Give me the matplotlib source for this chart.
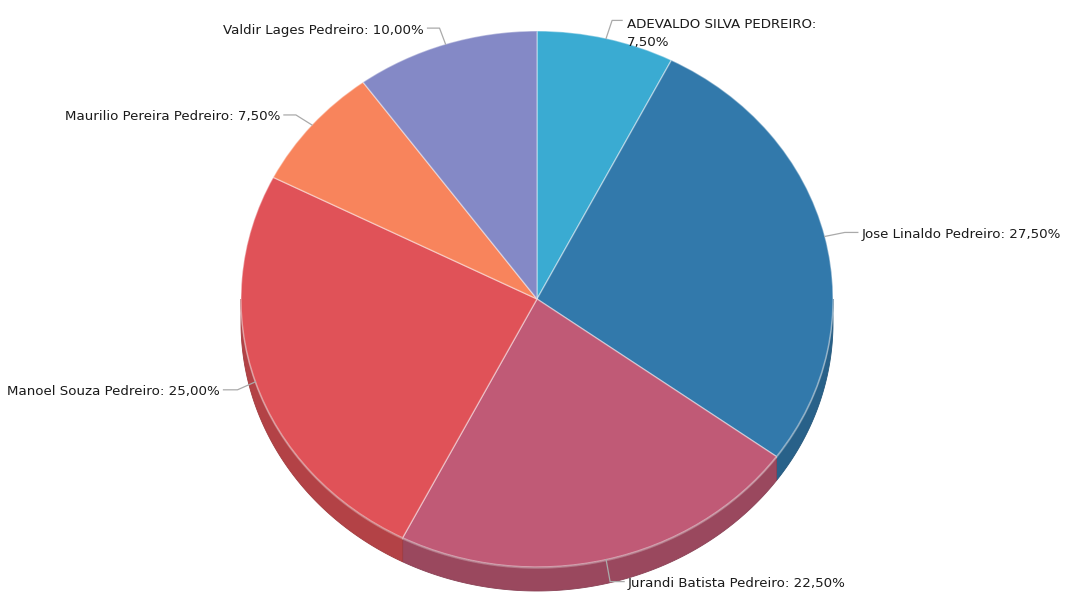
import numpy as np
import matplotlib
matplotlib.use("Agg")
import matplotlib.pyplot as plt
from matplotlib.patches import Polygon
from matplotlib.colors import to_rgb

# ---- data ----
names = ["ADEVALDO SILVA PEDREIRO", "Jose Linaldo Pedreiro", "Jurandi Batista Pedreiro",
         "Manoel Souza Pedreiro", "Maurilio Pereira Pedreiro", "Valdir Lages Pedreiro"]
values = [7.5, 27.5, 22.5, 25.0, 7.5, 10.0]
colors = ["#3aabd2", "#3279ab", "#c05a76", "#e05258", "#f8845c", "#8489c6"]

# ---- layout (pixels) ----
W, H = 1067, 596
CX, CY, RX, RY = 537, 299, 296, 268
DEPTH = 24
FS = 9.6

fig = plt.figure(figsize=(W / 100, H / 100), dpi=100)
ax = fig.add_axes([0, 0, 1, 1])
wedges, _ = ax.pie(values, colors=colors, startangle=90, counterclock=False, radius=1,
                   wedgeprops=dict(edgecolor=(1, 1, 1, 0.4), linewidth=1.0, zorder=3))
ax.set_aspect("auto")
ax.set_xlim(-CX / RX, (W - CX) / RX)
ax.set_ylim((CY - H) / RY, CY / RY)
ax.axis("off")

d = DEPTH / RY

def darker(c, f=0.8):
    r, g, b = to_rgb(c)
    return (r * f, g * f, b * f)

# side walls (front half only: angles 180..360)
for w, c in zip(wedges, colors):
    t1, t2 = w.theta1 % 360, w.theta2 % 360
    if t2 <= t1:
        segs = [(t1, 360), (0, t2)]
    else:
        segs = [(t1, t2)]
    for a, b in segs:
        lo, hi = max(a, 180), min(b, 360)
        if hi <= lo:
            continue
        t = np.radians(np.linspace(lo, hi, 120))
        top = np.column_stack([np.cos(t), np.sin(t)])
        bot = np.column_stack([np.cos(t[::-1]), np.sin(t[::-1]) - d])
        poly = Polygon(np.vstack([top, bot]), closed=True, facecolor=darker(c),
                       edgecolor=darker(c, 0.72), linewidth=0.6, zorder=1)
        ax.add_patch(poly)
        ax.plot(np.cos(t), np.sin(t) - 0.004, color=(1, 1, 1, 0.25), lw=1.0, zorder=2)

# ---- labels ----
def px(xp, yp):
    return (xp - CX) / RX, (CY - yp) / RY

# per label: elbow offset (dx, dy) from anchor and horizontal run (pixels)
label_geom = [
    (6, -18, 10), (20, -4, 13), (4, 22, 14),
    (-18, 8, -14), (-16, -10, -12), (-6, -16, -12),
]
for w, n, v, (ex, ey, hr) in zip(wedges, names, values, label_geom):
    mid = np.radians((w.theta1 + w.theta2) / 2)
    axp = CX + RX * np.cos(mid)
    ayp = CY - RY * np.sin(mid)
    bxp, byp = axp + ex, ayp + ey
    cxp = bxp + hr
    pts = [px(axp, ayp), px(bxp, byp), px(cxp, byp)]
    ax.plot([p[0] for p in pts], [p[1] for p in pts], color="#aaaaaa", lw=0.9, zorder=4)
    val = f"{v:.2f}".replace(".", ",") + "%"
    if n.isupper():
        txt = f"{n}:\n{val}"
        tx, ty = px(cxp + 5, byp - 2)
        ax.text(tx, ty, txt, ha="left", va="top", fontsize=FS, color="#1a1a1a",
                linespacing=1.5, zorder=5)
    else:
        txt = f"{n}: {val}"
        ha = "left" if hr > 0 else "right"
        off = 4 if hr > 0 else -4
        tx, ty = px(cxp + off, byp + 2)
        ax.text(tx, ty, txt, ha=ha, va="center", fontsize=FS, color="#1a1a1a", zorder=5)

fig.savefig("out.png", dpi=100)
